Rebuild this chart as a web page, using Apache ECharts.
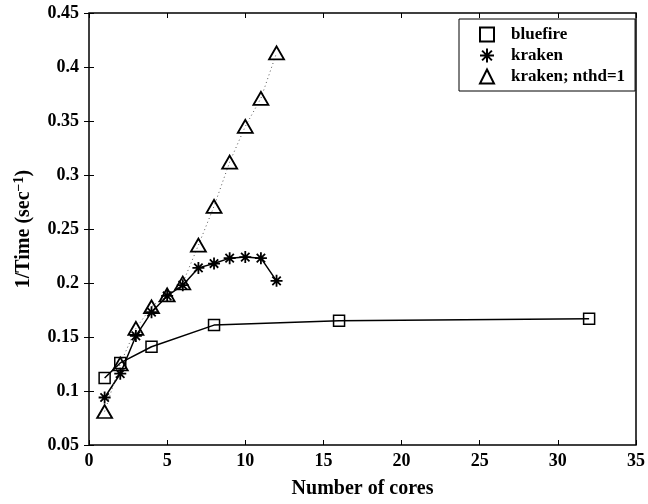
<!DOCTYPE html>
<html>
<head>
<meta charset="utf-8">
<script src="https://cdn.jsdelivr.net/npm/echarts@6/dist/echarts.min.js"></script>
<style>
  html, body { margin: 0; padding: 0; background: #fff; }
  #chart { width: 648px; height: 504px; }
</style>
</head>
<body>
<div id="chart"></div>
<script>
// 数据
const bluefireCores = [1, 2, 4, 8, 16, 32]
const bluefireVals = [0.112, 0.126, 0.141, 0.161, 0.165, 0.167]
const krakenCores = [1, 2, 3, 4, 5, 6, 7, 8, 9, 10, 11, 12]
const krakenVals = [0.094, 0.116, 0.151, 0.173, 0.188, 0.198, 0.214, 0.218, 0.223, 0.224, 0.223, 0.202]
const nthdCores = [1, 2, 3, 4, 5, 6, 7, 8, 9, 10, 11, 12]
const nthdVals = [0.081, 0.125, 0.158, 0.178, 0.189, 0.200, 0.235, 0.271, 0.312, 0.345, 0.371, 0.413]
const names = ['bluefire', 'kraken', 'kraken; nthd=1']

const font = 'Liberation Serif'
const star = 'path://M0,-10L0,10M-10,0L10,0M-7,-7L7,7M-7,7L7,-7'

const pairs = (xs, ys) => xs.map((x, i) => [x, ys[i]])

const chart = echarts.init(document.getElementById('chart'))
const tickStyle = { inside: true, length: 5, lineStyle: { color: '#000', width: 1 } }
const labelStyle = { color: '#000', fontFamily: font, fontWeight: 'bold', fontSize: 18 }

const option = {
  animation: false,
  grid: {
    left: 89, right: 8, top: 13, bottom: 58,
    show: true, borderColor: '#000', borderWidth: 1.5
  },
  legend: {
    orient: 'vertical',
    left: 459, top: 19,
    padding: [7, 10, 6, 20],
    itemGap: 4,
    itemWidth: 14, itemHeight: 14,
    backgroundColor: '#fff',
    borderColor: '#000', borderWidth: 1,
    textStyle: { color: '#000', fontFamily: font, fontWeight: 'bold', fontSize: 17, padding: [0, 0, 0, 12] },
    data: [
      { name: names[0], icon: 'rect', itemStyle: { color: 'transparent', borderColor: '#000', borderWidth: 2 } },
      { name: names[1], icon: star, itemStyle: { color: 'transparent', borderColor: '#000', borderWidth: 2 } },
      { name: names[2], icon: 'triangle', itemStyle: { color: 'transparent', borderColor: '#000', borderWidth: 2 } }
    ]
  },
  xAxis: [
    {
      type: 'value', min: 0, max: 35, interval: 5,
      name: 'Number of cores', nameLocation: 'middle', nameGap: 34,
      nameTextStyle: { color: '#000', fontFamily: font, fontWeight: 'bold', fontSize: 20 },
      axisLine: { show: false },
      axisTick: tickStyle,
      axisLabel: Object.assign({ margin: 7 }, labelStyle),
      splitLine: { show: false }
    },
    {
      type: 'value', position: 'top', min: 0, max: 35, interval: 5,
      axisLine: { show: false }, axisTick: tickStyle, axisLabel: { show: false },
      splitLine: { show: false }
    }
  ],
  yAxis: [
    {
      type: 'value', min: 0.05, max: 0.45, interval: 0.05,
      name: '1/Time (sec{sup|−1})', nameLocation: 'middle', nameGap: 53, nameRotate: 90,
      nameTextStyle: {
        color: '#000', fontFamily: font, fontWeight: 'bold', fontSize: 20,
        rich: { sup: { fontFamily: font, fontWeight: 'bold', fontSize: 14, verticalAlign: 'top', padding: [0, 0, 10, 0] } }
      },
      axisLine: { show: false },
      axisTick: tickStyle,
      axisLabel: Object.assign({ margin: 10, formatter: v => String(+v.toFixed(2)) }, labelStyle),
      splitLine: { show: false }
    },
    {
      type: 'value', position: 'right', min: 0.05, max: 0.45, interval: 0.05,
      axisLine: { show: false }, axisTick: tickStyle, axisLabel: { show: false },
      splitLine: { show: false }
    }
  ],
  series: [
    {
      name: names[0], type: 'line',
      data: pairs(bluefireCores, bluefireVals),
      symbol: 'rect', symbolSize: 11,
      lineStyle: { color: '#000', width: 1.5 },
      itemStyle: { color: 'transparent', borderColor: '#000', borderWidth: 1.5 }
    },
    {
      name: names[1], type: 'line',
      data: pairs(krakenCores, krakenVals),
      symbol: star, symbolSize: 12,
      lineStyle: { color: '#000', width: 1.5 },
      itemStyle: { color: 'transparent', borderColor: '#000', borderWidth: 1.8 }
    },
    {
      name: names[2], type: 'line',
      data: pairs(nthdCores, nthdVals),
      symbol: 'triangle', symbolSize: [15, 13],
      lineStyle: { color: '#555', width: 1, type: [1, 3] },
      itemStyle: { color: 'transparent', borderColor: '#000', borderWidth: 1.8 }
    }
  ]
}
chart.setOption(option)
</script>
</body>
</html>
